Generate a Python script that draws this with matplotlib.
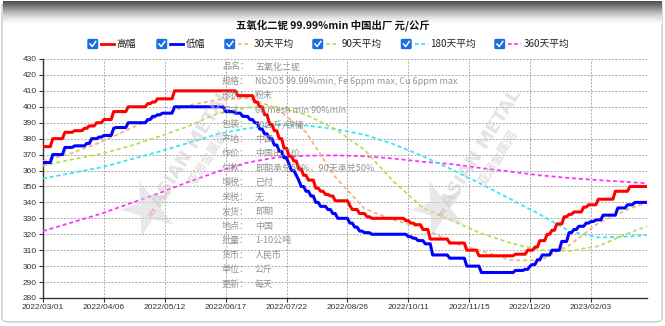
import numpy as np
import matplotlib
matplotlib.use('Agg')
import matplotlib.pyplot as plt
from matplotlib.patches import FancyBboxPatch
from matplotlib.lines import Line2D

plt.rcParams['font.family'] = ['Noto Sans CJK SC', 'DejaVu Sans']

# ---- data ----
title = '五氧化二铌 99.99%min 中国出厂 元/公斤'
tick_dates = ['2022/03/01', '2022/04/06', '2022/05/12', '2022/06/17', '2022/07/22',
              '2022/08/26', '2022/10/11', '2022/11/15', '2022/12/20', '2023/02/03']
n_days = 249
tick_every = 25

# high price, run-length encoded (days held, price)
high_days = [4, 5, 4, 4, 2, 3, 3, 4, 6, 8,
             2, 2, 7, 26, 7, 2, 2, 2, 2, 2,
             2, 2, 2, 2, 2, 2, 3, 2, 2, 2,
             2, 6, 1, 3, 3, 2, 14, 2, 2, 3,
             3, 8, 7, 5, 15, 5, 3, 2, 3, 2,
             2, 3, 2, 2, 4, 2, 4, 7, 6, 8]
high_price = [375, 380, 384, 385, 386.5, 388, 390, 392, 397, 400,
              402, 403, 405, 410, 407, 403, 400, 395, 389, 385,
              380, 374, 369, 366, 361, 357, 354, 349, 347, 345,
              344, 341, 338, 335.5, 333, 331, 330, 328.5, 327, 326,
              323, 317, 314.5, 310, 306.5, 307.5, 310, 312, 316, 320,
              322.5, 326.5, 331, 332.5, 334, 337, 338.5, 342, 347, 350]

# low price, run-length encoded
low_days = [4, 5, 4, 5, 2, 3, 2, 4, 1, 5,
            8, 2, 2, 2, 5, 21, 4, 3, 3, 2,
            2, 2, 2, 2, 2, 2, 2, 1, 2, 1,
            1, 2, 2, 2, 2, 3, 2, 2, 5, 2,
            2, 2, 3, 15, 2, 2, 3, 3, 7, 7,
            6, 14, 4, 2, 1, 2, 2, 4, 4, 3,
            2, 2, 3, 2, 2, 3, 6, 4, 3, 6]
low_price = [365, 370, 374.5, 375.5, 377, 380, 381, 382, 386.5, 387,
             390, 392, 394, 395, 396, 400, 397, 396, 394, 392,
             390, 386, 383, 380, 376, 372, 368, 364, 360, 357,
             354, 350, 347, 344, 340, 337.5, 335.5, 333, 330, 327,
             324.5, 322, 321, 320, 318.5, 317.5, 316, 314, 307, 305,
             300, 296, 297.3, 298, 300, 301, 304, 307, 310, 315.5,
             321, 323, 325, 327, 328, 329, 332, 336.5, 338.5, 340]

# moving averages, read at these day indices
ma_day = [0, 12, 24, 36, 48, 60, 72, 84, 96, 108, 120,
          132, 144, 156, 168, 180, 192, 204, 216, 228, 240, 248]
ma30 = [366, 371, 378, 386.5, 394.5, 401, 404.5, 405.5, 399, 384, 356,
        336, 329, 324, 314.8, 309.5, 303.8, 303.5, 313, 327, 335.5, 340]
ma90 = [363, 367, 370.5, 375.5, 381.5, 388, 396, 399.5, 400, 395, 386,
        373, 353, 336.5, 328.5, 320.5, 314.5, 310, 309.5, 312.5, 320.5, 325]
ma180 = [355, 358.5, 362, 367, 372, 377.5, 383, 386.5, 388.5, 388.3, 386,
         382.5, 376.5, 369, 360.5, 351.5, 342, 332.5, 322, 318, 318.5, 319.5]
ma360 = [322, 327.5, 333, 339.5, 346, 353, 359.5, 365, 368.3, 369.3, 369.5,
         369, 367.5, 365.5, 364, 361.5, 359.3, 357, 355.3, 354, 352.8, 352]

info_keys = ['品名', '规格', '形状', '尺寸', '包装', '产地', '作价', '付款',
             '增税', '关税', '发货', '地点', '批量', '货币', '单位', '更新']
info_vals = ['五氧化二铌', 'Nb2O5 99.99%min, Fe 6ppm max, Cu 6ppm max', '粉末',
             '60 mesh min 90%min', '50公斤/铁桶', '中国', '中国出厂价',
             '即期承兑50%，90天承兑50%', '已付', '无', '即期', '中国', '1-10公吨',
             '人民币', '公斤', '每天']

legend_labels = ['高幅', '低幅', '30天平均', '90天平均', '180天平均', '360天平均']

# ---- figure ----
W, H = 665, 326
fig = plt.figure(figsize=(W / 100, H / 100), dpi=100)

def fx(px):
    return px / W

def fy(py):
    return 1 - py / H

# frame + grey header gradient
frame = FancyBboxPatch((fx(2), fy(322)), fx(660), 320 / H,
                       boxstyle='round,pad=0,rounding_size=0.012',
                       fc='white', ec='#c8c8c8', lw=1.0, transform=fig.transFigure,
                       zorder=-10)
fig.patches.append(frame)
gax = fig.add_axes([fx(3), fy(24), fx(659), 23 / H], zorder=-5)
grad = np.linspace(0, 1, 64).reshape(-1, 1)
gax.imshow(grad, cmap='Greys_r', aspect='auto', vmin=-0.3, vmax=1.0,
           extent=[0, 1, 0, 1])
gax.axis('off')

fig.text(0.5, fy(25), title, ha='center', va='center', fontsize=7.5,
         fontweight='bold', color='#111111')

# ---- main axes ----
ax = fig.add_axes([fx(43), fy(298), fx(647 - 43), (298 - 59) / H])
ax.set_xlim(0, n_days - 1)
ax.set_ylim(280, 430)

days = np.arange(n_days)
high = np.repeat(high_price, high_days)
low = np.repeat(low_price, low_days)

dash = (0, (2.2, 1.6))
ax.plot(ma_day, ma360, color='#ff33ff', lw=1.3, ls=dash, zorder=3)
ax.plot(ma_day, ma180, color='#33e8f0', lw=1.3, ls=dash, zorder=3)
ax.plot(ma_day, ma90, color='#b0e35a', lw=1.3, ls=dash, zorder=3)
ax.plot(ma_day, ma30, color='#f5b478', lw=1.3, ls=dash, zorder=3)
ax.plot(days, low, color='#0000ff', lw=2.2, zorder=4)
ax.plot(days, high, color='#ff0000', lw=2.2, zorder=4)

ax.set_yticks(np.arange(280, 431, 10))
ax.set_xticks(np.arange(len(tick_dates)) * tick_every)
ax.set_xticklabels(tick_dates)
for lab in ax.get_xticklabels() + ax.get_yticklabels():
    lab.set_family(['Liberation Sans', 'DejaVu Sans'])
    lab.set_fontsize(6)
    lab.set_color('#333333')
ax.tick_params(axis='both', length=3, width=0.8, color='#333333', pad=1.5)
ax.grid(True, color='#aaaaaa', lw=0.7, ls=(0, (2, 1.5)))
ax.set_axisbelow(True)
for s in ['top', 'right']:
    ax.spines[s].set_visible(False)
for s in ['left', 'bottom']:
    ax.spines[s].set_color('#333333')
    ax.spines[s].set_linewidth(1.0)
ax.patch.set_alpha(0)

# watermarks
for (wx, wy) in [(150, 210), (440, 210)]:
    fig.text(fx(wx), fy(wy), '★', fontsize=52, color='#d5d5d5', alpha=0.55,
             ha='center', va='center', rotation=20, family=['DejaVu Sans'])
    fig.text(fx(wx + 3), fy(wy + 2), 'AM', fontsize=5, color='#e08080', alpha=0.6,
             ha='center', va='center', rotation=55, family=['DejaVu Sans'])
    fig.text(fx(wx + 42), fy(wy - 62), 'ASIAN METAL', fontsize=13, fontweight='bold',
             color='#cccccc', alpha=0.55, ha='center', va='center', rotation=58,
             family=['DejaVu Sans'])
    fig.text(fx(wx + 58), fy(wy - 52), '亚洲金属网', fontsize=9, fontweight='bold',
             color='#cccccc', alpha=0.55, ha='center', va='center', rotation=58)

# info block
for i, (k, v) in enumerate(zip(info_keys, info_vals)):
    yy = 66.7 + i * 14.5
    fig.text(fx(222), fy(yy), k + '：', fontsize=6.5, color='#888888', va='center', alpha=0.9)
    fig.text(fx(255), fy(yy), v, fontsize=6.5, color='#888888', va='center', alpha=0.9)

# legend
leg_x = [88, 157, 225, 313, 401.5, 495]
leg_style = [('#ff0000', '-', 2.0), ('#0000ff', '-', 2.0),
             ('#f5b478', (0, (2, 1.5)), 1.3), ('#b0e35a', (0, (2, 1.5)), 1.3),
             ('#33e8f0', (0, (2, 1.5)), 1.3), ('#ff33ff', (0, (2, 1.5)), 1.3)]
ly = 44
for x0, lab, (c, ls, lw) in zip(leg_x, legend_labels, leg_style):
    box = FancyBboxPatch((fx(x0), fy(ly + 4.5)), fx(9.5), 9 / H,
                         boxstyle='round,pad=0,rounding_size=0.002',
                         fc='#1a6fe0', ec='#1a6fe0', transform=fig.transFigure)
    fig.patches.append(box)
    fig.lines.append(Line2D([fx(x0 + 2), fx(x0 + 4.2), fx(x0 + 7.8)],
                            [fy(ly), fy(ly + 2.5), fy(ly - 2.5)],
                            color='white', lw=1.1, transform=fig.transFigure))
    fig.lines.append(Line2D([fx(x0 + 13), fx(x0 + 26)], [fy(ly), fy(ly)],
                            color=c, ls=ls, lw=lw, transform=fig.transFigure))
    fig.text(fx(x0 + 28.5), fy(ly), lab, fontsize=7, va='center', color='#222222')

fig.savefig('out.png', dpi=100)
